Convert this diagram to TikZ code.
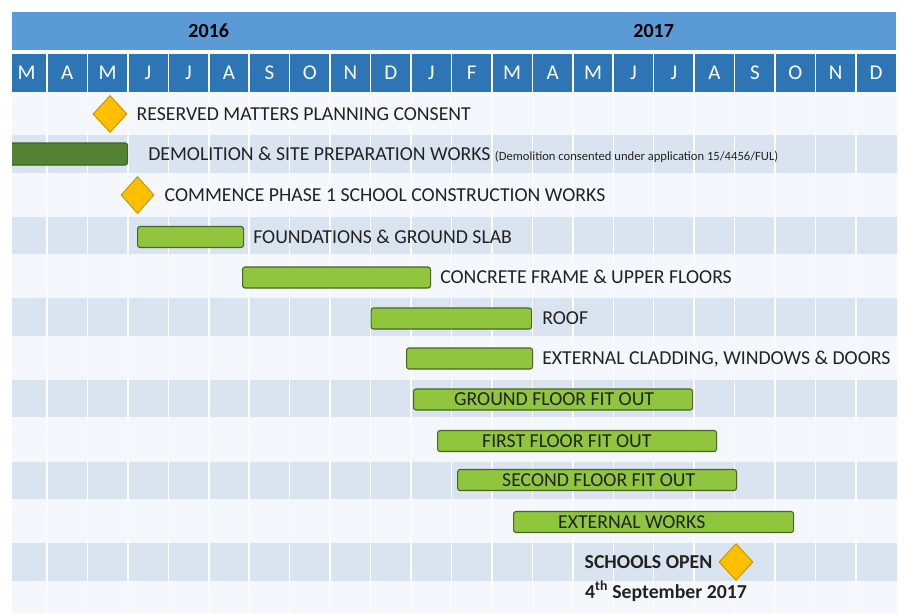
\documentclass[tikz,border=0pt]{standalone}
\usepackage{fontspec}
\setmainfont{Carlito}
\usetikzlibrary{shapes.geometric,positioning}
\definecolor{yearblue}{HTML}{5B9BD5}
\definecolor{monthblue}{HTML}{2E75B6}
\definecolor{rowblue}{HTML}{DAE3F0}
\definecolor{rowwhite}{HTML}{F4F7FB}
\definecolor{gridw}{HTML}{FAFBFD}
\definecolor{bargreen}{HTML}{8FC63E}
\definecolor{barline}{HTML}{4A6424}
\definecolor{demogreen}{HTML}{548235}
\definecolor{demoline}{HTML}{3D6126}
\definecolor{diafill}{HTML}{FFC000}
\definecolor{dialine}{HTML}{C99700}
\definecolor{txt}{HTML}{222222}
\newcommand{\lblfont}{\fontsize{19.75}{21}\selectfont}
\newcommand{\smallnote}{\fontsize{12.6}{13}\selectfont}
\tikzset{
  yearcell/.style={fill=yearblue, minimum height=38pt, inner sep=0pt, text=black,
    font=\fontsize{20}{22}\selectfont\bfseries},
  monthcell/.style={fill=monthblue, minimum width=38.9pt, minimum height=38pt, inner sep=0pt,
    text=white, font=\fontsize{21}{22}\selectfont},
  greenbar/.style={draw=barline, fill=bargreen, line width=1.1pt, rounded corners=2.5pt,
    minimum height=21pt, inner sep=0pt, anchor=west},
  demobar/.style={draw=demoline, fill=demogreen, line width=1.1pt, rounded corners=2.5pt,
    minimum height=22pt, inner sep=0pt, anchor=west},
  milestone/.style={shape=diamond, fill=diafill, draw=dialine, line width=1pt,
    minimum width=34pt, minimum height=37pt, inner sep=0pt},
  lbl/.style={font=\lblfont, text=txt, text height=12.6pt, text depth=0pt, inner sep=0pt, anchor=west},
  boldlbl/.style={lbl, font=\lblfont\bfseries},
}
\begin{document}
\begin{tikzpicture}[x=1pt,y=-1pt]
\useasboundingbox (0,0) rectangle (907,613);
\fill[white] (0,0) rectangle (907,613);
\begin{scope}
\clip (12,0) rectangle (897,613);
% background rows
\fill[rowwhite] (0,92) rectangle (907,613);
\foreach \k in {1,...,21}
  \draw[gridw, line width=1.5pt] ({6.5+40.45*\k},92) -- ({6.5+40.45*\k},613);
\foreach \yy in {135,216.5,298,379.5,461.5,543}{
  \fill[rowblue] (0,\yy) rectangle (907,\yy+37.5);
  \foreach \k in {1,...,21}
    \draw[white, line width=1.5pt] ({6.5+40.45*\k},\yy) -- ({6.5+40.45*\k},\yy+37.5);
}
% header
\node[yearcell, minimum width=403.7pt] (y2016) at (208.75,31) {2016};
\node[yearcell, minimum width=484.6pt] (y2017) at (653.7,31) {2017};
\foreach \mn [count=\i from 0] in {M,A,M,J,J,A,S,O,N,D,J,F,M,A,M,J,J,A,S,O,N,D}
  \node[monthcell] (mon\i) at ({6.5+40.45*(\i+0.5)},73) {\mn};
% demolition bar (runs off the left edge)
\node[demobar, minimum width=123pt] (demo) at (4,154) {};
\end{scope}

% milestones
\node[milestone] (res) at (110,114) {};
\node[lbl] (resL) at ([xshift=9pt]res.east) {RESERVED MATTERS PLANNING CONSENT};

\node[lbl] (demoL) at ([xshift=20pt]demo.east) {DEMOLITION \& SITE PREPARATION WORKS {\smallnote (Demolition consented under application 15/4456/FUL)}};

\node[milestone, minimum width=33pt] (com) at (137.5,195) {};
\node[lbl] (comL) at ([xshift=10pt]com.east) {COMMENCE PHASE 1 SCHOOL CONSTRUCTION WORKS};

% activity bars
\node[greenbar, minimum width=106pt] (found) at (137,237) {};
\node[lbl] (foundL) at ([xshift=9pt]found.east) {FOUNDATIONS \& GROUND SLAB};

\node[greenbar, minimum width=188pt] (frame) at (242,277.5) {};
\node[lbl] (frameL) at ([xshift=9pt]frame.east) {CONCRETE FRAME \& UPPER FLOORS};

\node[greenbar, minimum width=160.5pt] (roof) at (370.5,318.5) {};
\node[lbl] (roofL) at ([xshift=10pt]roof.east) {ROOF};

\node[greenbar, minimum width=126pt] (clad) at (406,358.5) {};
\node[lbl] (cladL) at ([xshift=9pt]clad.east) {EXTERNAL CLADDING, WINDOWS \& DOORS};

\node[greenbar, minimum width=279pt] (gff) at (413,399.5) {};
\node[lbl] (gffL) at ([xshift=41pt]gff.west) {GROUND FLOOR FIT OUT};

\node[greenbar, minimum width=279pt] (fff) at (437,441) {};
\node[lbl] (fffL) at ([xshift=45pt]fff.west) {FIRST FLOOR FIT OUT};

\node[greenbar, minimum width=279pt] (sff) at (457,480) {};
\node[lbl] (sffL) at ([xshift=45pt]sff.west) {SECOND FLOOR FIT OUT};

\node[greenbar, minimum width=280pt] (ext) at (513,522) {};
\node[lbl] (extL) at ([xshift=45pt]ext.west) {EXTERNAL WORKS};

% opening
\node[milestone] (open) at (736,562) {};
\node[boldlbl, anchor=east] (openL) at ([xshift=-6pt]open.west) {SCHOOLS OPEN};
\node[boldlbl] (dateL) at (585,592) {4\textsuperscript{th} September 2017};
\end{tikzpicture}
\end{document}
